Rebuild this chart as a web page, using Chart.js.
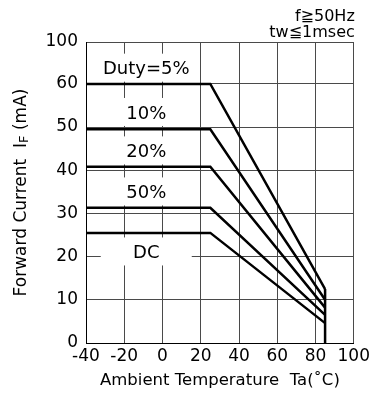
<!DOCTYPE html>
<html>
<head>
<meta charset="utf-8">
<script src="https://cdn.jsdelivr.net/npm/chart.js@4/dist/chart.umd.min.js"></script>
<style>
  html, body { margin: 0; padding: 0; background: #fff; }
  canvas { display: block; }
</style>
</head>
<body>
<canvas id="c" width="373" height="405"></canvas>
<script>
// Forward current derating vs ambient temperature, one curve per duty ratio
const dutyLabels  = ['Duty=5%', '10%', '20%', '50%', 'DC'];
const flatCurrent = [60, 49.5, 40.8, 31.3, 25.5];   // mA, constant up to the knee
const endCurrent  = [12.5, 10, 8.2, 6.5, 4.6];      // mA at the maximum temperature
const startTemp = -40;                               // °C
const kneeTemp  = 25;                                // °C
const endTemp   = 85;                                // °C
const xTicks = [-40, -20, 0, 20, 40, 60, 80, 100];
const yTicks = [0, 10, 20, 30, 40, 50, 60, 100];
const notes  = ['f≧50Hz', 'tw≦1msec'];

// Curve label anchors, in data units (°C, mA)
const labelTemp    = [-8.5, -8.5, -8.5, -8.5, -8.5];
const labelCurrent = [75.5, 53.5, 44.6, 35.1, 21.2];

// The current axis is linear up to 60 mA; the 60–100 mA band is compressed.
const BREAK = 60, TOP = 100, TOP_BAND = 9.7;
function toAxis(v) {
  return v <= BREAK ? v : BREAK + (v - BREAK) * TOP_BAND / (TOP - BREAK);
}

const FONT = "'DejaVu Sans', sans-serif";

const datasets = dutyLabels.map((name, i) => ({
  label: name,
  data: [
    { x: startTemp, y: toAxis(flatCurrent[i]) },
    { x: kneeTemp,  y: toAxis(flatCurrent[i]) },
    { x: endTemp,   y: toAxis(endCurrent[i]) }
  ],
  borderColor: '#000',
  borderWidth: 2.5,
  pointRadius: 0,
  tension: 0,
  fill: false
}));
// Cut-off at the maximum operating temperature
datasets.push({
  label: 'Tmax',
  data: [{ x: endTemp, y: 0 }, { x: endTemp, y: toAxis(Math.max(...endCurrent)) }],
  borderColor: '#000',
  borderWidth: 2.5,
  pointRadius: 0,
  fill: false
});

const decorations = {
  id: 'decorations',
  beforeDatasetsDraw(chart) {
    const { ctx, scales: { x, y } } = chart;
    ctx.save();
    // curve labels on white boxes
    const size = 18;
    ctx.font = size + 'px ' + FONT;
    ctx.textAlign = 'center';
    ctx.textBaseline = 'alphabetic';
    dutyLabels.forEach((txt, i) => {
      const cx = x.getPixelForValue(labelTemp[i]);
      const cy = y.getPixelForValue(toAxis(labelCurrent[i]));
      ctx.fillStyle = '#fff';
      ctx.fillRect(cx - 45.5, cy - 14, 91, 28);
      ctx.fillStyle = '#000';
      ctx.fillText(txt, cx, cy + size * 0.729 / 2);
    });
    ctx.restore();
  },
  afterDraw(chart) {
    const { ctx, chartArea } = chart;
    ctx.save();
    ctx.fillStyle = '#000';
    // test conditions, top right
    const ns = 16;
    ctx.font = ns + 'px ' + FONT;
    ctx.textAlign = 'right';
    ctx.textBaseline = 'alphabetic';
    ctx.fillText(notes[0], chartArea.right + 1, 15 + ns * 0.729 / 2);
    ctx.fillText(notes[1], chartArea.right + 1, 31.5 + ns * 0.729 / 2);

    // vertical axis title with subscript F
    const ts = 17, ss = 13;
    const main = 'Forward Current  I', tail = ' (mA)';
    ctx.font = ts + 'px ' + FONT;
    const w1 = ctx.measureText(main).width;
    const w3 = ctx.measureText(tail).width;
    ctx.font = ss + 'px ' + FONT;
    const w2 = ctx.measureText('F').width;
    const total = w1 + w2 + w3;
    const cyTitle = (chartArea.top + chartArea.bottom) / 2;
    ctx.translate(20, cyTitle);
    ctx.rotate(-Math.PI / 2);
    ctx.textAlign = 'left';
    const base = ts * 0.729 / 2;
    let px = -total / 2;
    ctx.font = ts + 'px ' + FONT;
    ctx.fillText(main, px, base);
    px += w1;
    ctx.font = ss + 'px ' + FONT;
    ctx.fillText('F', px, base + 1.5);
    px += w2;
    ctx.font = ts + 'px ' + FONT;
    ctx.fillText(tail, px, base);
    ctx.restore();
  }
};

new Chart(document.getElementById('c'), {
  type: 'line',
  data: { datasets },
  plugins: [decorations],
  options: {
    responsive: false,
    animation: false,
    devicePixelRatio: 1,
    layout: { padding: { left: 0, right: 16, top: 42, bottom: 0 } },
    plugins: { legend: { display: false }, tooltip: { enabled: false } },
    scales: {
      x: {
        type: 'linear',
        min: xTicks[0],
        max: xTicks[xTicks.length - 1],
        afterBuildTicks: s => { s.ticks = xTicks.map(v => ({ value: v })); },
        afterFit: s => { s.height = 62; },
        ticks: { color: '#000', font: { family: FONT, size: 17 }, padding: 3, maxRotation: 0, autoSkip: false },
        grid: { color: '#4a4a4a', lineWidth: 1, drawTicks: false },
        border: { color: '#000', width: 1 },
        title: {
          display: true,
          text: 'Ambient Temperature  Ta(˚C)',
          color: '#000',
          font: { family: FONT, size: 16.5 },
          padding: { top: 0, bottom: 14 }
        }
      },
      y: {
        type: 'linear',
        min: 0,
        max: toAxis(TOP),
        afterBuildTicks: s => { s.ticks = yTicks.map(v => ({ value: toAxis(v) })); },
        afterFit: s => { s.width = 86; },
        ticks: {
          color: '#000',
          font: { family: FONT, size: 17 },
          padding: 8,
          autoSkip: false,
          callback: (v, i) => yTicks[i]
        },
        grid: { color: '#4a4a4a', lineWidth: 1, drawTicks: false },
        border: { color: '#000', width: 1 }
      }
    }
  }
});
</script>
</body>
</html>
